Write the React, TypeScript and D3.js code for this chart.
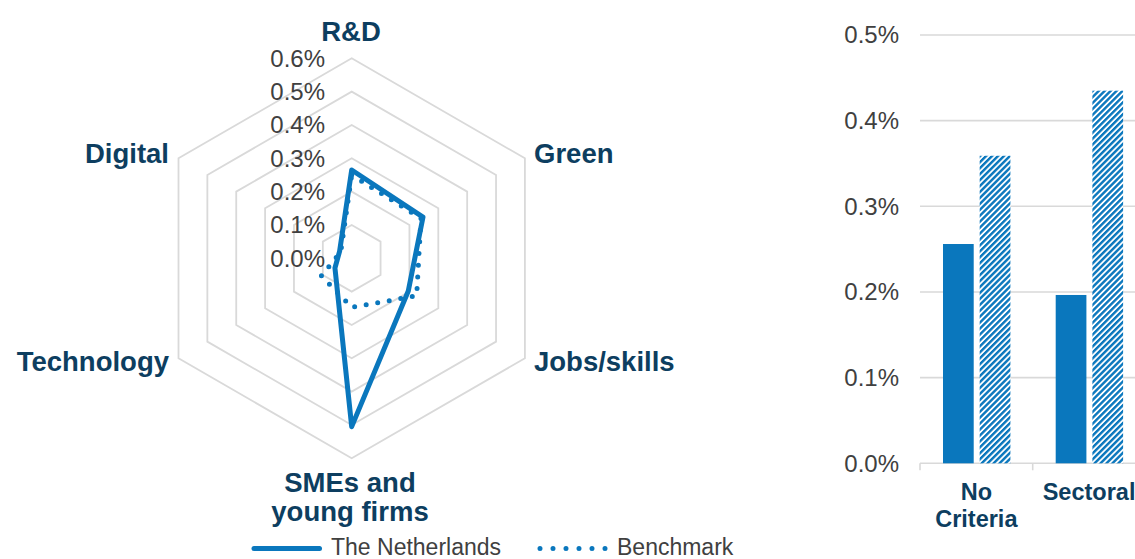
import React from "react";
import * as d3 from "d3";

const radarAxes = ["R&D", "Green", "Jobs/skills", "SMEs and young firms", "Technology", "Digital"];
const netherlands = [0.265, 0.247, 0.196, 0.505, 0.058, 0.042];
const benchmark = [0.25, 0.24, 0.225, 0.147, 0.105, 0.038];
const radarTicks = [0, 0.1, 0.2, 0.3, 0.4, 0.5, 0.6];

const barCategories = [["No", "Criteria"], ["Sectoral"]];
const barSeries = ["The Netherlands", "Benchmark"];
const barNetherlands = [0.256, 0.1965];
const barBenchmark = [0.359, 0.435];
const barTicks = [0, 0.1, 0.2, 0.3, 0.4, 0.5];

const BLUE = "#0A77BD";
const NAVY = "#0D3E60";
const GRAY_TEXT = "#404040";
const GRID = "#D9D9D9";
const FONT = "'Liberation Sans', Arial, sans-serif";

export default function App() {
  const cx = 351.7;
  const cy = 258.3;
  const r = d3.scaleLinear().domain([0, 0.6]).range([0, 200]);
  const n = radarAxes.length;
  const angle = (i: number) => (i * 2 * Math.PI) / n;
  const radial = d3
    .lineRadial<number>()
    .angle((_, i) => angle(i))
    .radius((d) => r(d))
    .curve(d3.curveLinearClosed);

  const ringPath = (v: number) => radial(radarAxes.map(() => v)) as string;

  // bar chart scales
  const x0 = d3.scaleBand<number>().domain([0, 1]).range([920, 1145.4]).paddingInner(0).paddingOuter(0);
  const x1 = d3.scaleBand<number>().domain([0, 1]).range([23, 90.4]).paddingInner(0.163).paddingOuter(0);
  const y = d3.scaleLinear().domain([0, 0.5]).range([463.3, 35]);
  const barData = [barNetherlands, barBenchmark];

  const labelPos: { x: number; y: number; anchor: string }[] = [
    { x: 351, y: 41, anchor: "middle" },
    { x: 534, y: 163, anchor: "start" },
    { x: 534, y: 371, anchor: "start" },
    { x: 350, y: 492, anchor: "middle" },
    { x: 169, y: 371, anchor: "end" },
    { x: 169, y: 163, anchor: "end" },
  ];

  const LABEL_FS = 27.5;
  const TICK_FS = 24;

  return (
    <svg
      width={1135}
      height={559}
      style={{ position: "absolute", left: 0, top: 0, background: "#fff" }}
      fontFamily={FONT}
    >
      <defs>
        <pattern id="hatch" patternUnits="userSpaceOnUse" width={4.2} height={8} patternTransform="rotate(45)">
          <rect x={0} y={0} width={4.2} height={8} fill="#fff" />
          <rect x={0} y={0} width={2.4} height={8} fill={BLUE} />
        </pattern>
      </defs>

      {/* Radar grid */}
      <g transform={`translate(${cx},${cy})`}>
        {radarTicks.slice(1).map((t) => (
          <path key={t} d={ringPath(t)} fill="none" stroke={GRID} strokeWidth={1.8} />
        ))}
      </g>

      {/* Radar tick labels */}
      {radarTicks.map((t) => (
        <text
          key={t}
          x={325}
          y={cy - r(t)}
          dy="0.35em"
          textAnchor="end"
          fontSize={TICK_FS}
          fill={GRAY_TEXT}
        >
          {d3.format(".1%")(t / 100)}
        </text>
      ))}

      {/* Radar series */}
      <g transform={`translate(${cx},${cy})`}>
        <path
          d={radial(benchmark) as string}
          fill="none"
          stroke={BLUE}
          strokeWidth={5}
          strokeLinecap="round"
          strokeDasharray="0 11.7"
        />
        <path
          d={radial(netherlands) as string}
          fill="none"
          stroke={BLUE}
          strokeWidth={5}
          strokeLinejoin="round"
        />
      </g>

      {/* Radar axis labels */}
      {radarAxes.map((a, i) => {
        const p = labelPos[i];
        if (a === "SMEs and young firms") {
          return (
            <text key={a} x={p.x} y={p.y} textAnchor="middle" fontSize={LABEL_FS} fontWeight="bold" fill={NAVY}>
              <tspan x={p.x}>SMEs and</tspan>
              <tspan x={p.x} dy={29}>young firms</tspan>
            </text>
          );
        }
        return (
          <text key={a} x={p.x} y={p.y} textAnchor={p.anchor as any} fontSize={LABEL_FS} fontWeight="bold" fill={NAVY}>
            {a}
          </text>
        );
      })}

      {/* Legend */}
      <line x1={254} x2={319.5} y1={548.5} y2={548.5} stroke={BLUE} strokeWidth={5} strokeLinecap="round" />
      <text x={331} y={555} fontSize={23} fill={GRAY_TEXT}>
        {barSeries[0]}
      </text>
      <line
        x1={540}
        x2={606}
        y1={548.5}
        y2={548.5}
        stroke={BLUE}
        strokeWidth={5}
        strokeLinecap="round"
        strokeDasharray="0 13"
      />
      <text x={617} y={555} fontSize={23} fill={GRAY_TEXT}>
        {barSeries[1]}
      </text>

      {/* Bar chart grid */}
      {barTicks.map((t) => (
        <g key={t}>
          <line
            x1={920}
            x2={1135}
            y1={y(t)}
            y2={y(t)}
            stroke={GRID}
            strokeWidth={1.6}
          />
          <text x={899} y={y(t)} dy="0.35em" textAnchor="end" fontSize={TICK_FS} fill={GRAY_TEXT}>
            {d3.format(".1%")(t / 100)}
          </text>
        </g>
      ))}
      {[0, 1, 2].map((i) => {
        const xx = 920 + i * x0.step();
        return <line key={i} x1={xx} x2={xx} y1={y(0)} y2={y(0) + 7} stroke={GRID} strokeWidth={1.6} />;
      })}

      {/* Bars */}
      {barCategories.map((cat, ci) => (
        <g key={ci}>
          {barData.map((s, si) => (
            <rect
              key={si}
              x={(x0(ci) as number) + (x1(si) as number)}
              y={y(s[ci])}
              width={x1.bandwidth()}
              height={y(0) - y(s[ci])}
              fill={si === 0 ? BLUE : "url(#hatch)"}
            />
          ))}
          <text
            x={(x0(ci) as number) + x0.bandwidth() / 2}
            y={500}
            textAnchor="middle"
            fontSize={23.5}
            fontWeight="bold"
            fill={NAVY}
          >
            {cat.map((line, li) => (
              <tspan key={li} x={(x0(ci) as number) + x0.bandwidth() / 2} dy={li === 0 ? 0 : 27}>
                {line}
              </tspan>
            ))}
          </text>
        </g>
      ))}
    </svg>
  );
}
